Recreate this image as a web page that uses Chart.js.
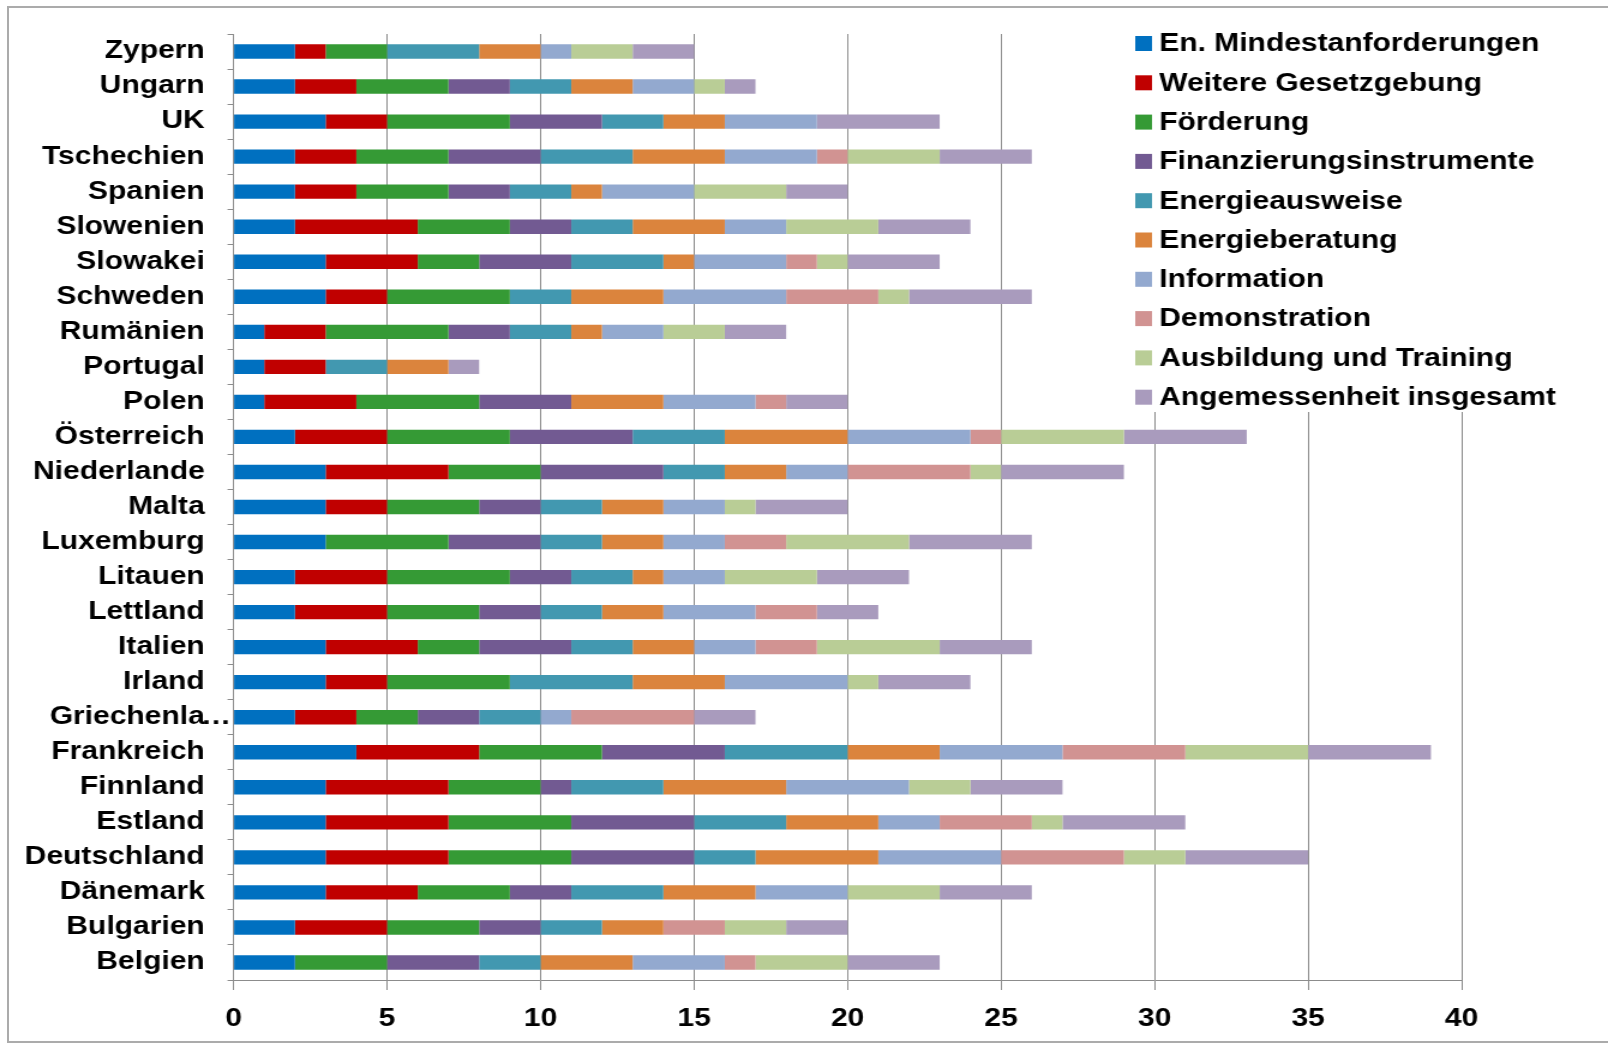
<!DOCTYPE html>
<html lang="de">
<head>
<meta charset="utf-8">
<title>Maßnahmen nach Ländern</title>
<script src="https://cdn.jsdelivr.net/npm/chart.js@4.4.1/dist/chart.umd.min.js"></script>
<style>
  html, body { margin: 0; padding: 0; background: #fff; overflow: hidden; }
  #frame {
    position: absolute; left: 7px; top: 6px;
    width: 1700px; height: 1033px;
    border: 2px solid #ababab;
  }
  /* the chart is laid out on a narrower canvas and widened horizontally */
  #wrap {
    position: absolute; left: 0; top: 0;
    width: 1340px; height: 1044px;
    transform: scaleX(1.2); transform-origin: 0 0;
  }
  canvas { display: block; }
</style>
</head>
<body>
<div id="frame"></div>
<div id="wrap"><canvas id="chart" width="1340" height="1044"></canvas></div>
<script>
// Countries, top to bottom
const countries = [
  'Zypern', 'Ungarn', 'UK', 'Tschechien', 'Spanien', 'Slowenien', 'Slowakei',
  'Schweden', 'Rumänien', 'Portugal', 'Polen', 'Österreich', 'Niederlande',
  'Malta', 'Luxemburg', 'Litauen', 'Lettland', 'Italien', 'Irland',
  'Griechenland', 'Frankreich', 'Finnland', 'Estland', 'Deutschland',
  'Dänemark', 'Bulgarien', 'Belgien'
];

// Scores per measure, same order as countries
const mindestanforderungen = [2, 2, 3, 2, 2, 2, 3, 3, 1, 1, 1, 2, 3, 3, 3, 2, 2, 3, 3, 2, 4, 3, 3, 3, 3, 2, 2];
const gesetzgebung         = [1, 2, 2, 2, 2, 4, 3, 2, 2, 2, 3, 3, 4, 2, 0, 3, 3, 3, 2, 2, 4, 4, 4, 4, 3, 3, 0];
const foerderung           = [2, 3, 4, 3, 3, 3, 2, 4, 4, 0, 4, 4, 3, 3, 4, 4, 3, 2, 4, 2, 4, 3, 4, 4, 3, 3, 3];
const finanzierung         = [0, 2, 3, 3, 2, 2, 3, 0, 2, 0, 3, 4, 4, 2, 3, 2, 2, 3, 0, 2, 4, 1, 4, 4, 2, 2, 3];
const energieausweise      = [3, 2, 2, 3, 2, 2, 3, 2, 2, 2, 0, 3, 2, 2, 2, 2, 2, 2, 4, 2, 4, 3, 3, 2, 3, 2, 2];
const energieberatung      = [2, 2, 2, 3, 1, 3, 1, 3, 1, 2, 3, 4, 2, 2, 2, 1, 2, 2, 3, 0, 3, 4, 3, 4, 3, 2, 3];
const information          = [1, 2, 3, 3, 3, 2, 3, 4, 2, 0, 3, 4, 2, 2, 2, 2, 3, 2, 4, 1, 4, 4, 2, 4, 3, 0, 3];
const demonstration        = [0, 0, 0, 1, 0, 0, 1, 3, 0, 0, 1, 1, 4, 0, 2, 0, 2, 2, 0, 4, 4, 0, 3, 4, 0, 2, 1];
const ausbildung           = [2, 1, 0, 3, 3, 3, 1, 1, 2, 0, 0, 4, 1, 1, 4, 3, 0, 4, 1, 0, 4, 2, 1, 2, 3, 2, 3];
const angemessenheit       = [2, 1, 4, 3, 2, 3, 3, 4, 2, 1, 2, 4, 4, 3, 4, 3, 2, 3, 3, 2, 4, 3, 4, 4, 3, 2, 3];

const seriesNames = [
  'En. Mindestanforderungen', 'Weitere Gesetzgebung', 'Förderung',
  'Finanzierungsinstrumente', 'Energieausweise', 'Energieberatung',
  'Information', 'Demonstration', 'Ausbildung und Training',
  'Angemessenheit insgesamt'
];
const seriesValues = [
  mindestanforderungen, gesetzgebung, foerderung, finanzierung, energieausweise,
  energieberatung, information, demonstration, ausbildung, angemessenheit
];
const seriesColors = [
  '#0070C0', '#C00000', '#359A35', '#725A92', '#4298B0',
  '#DB843D', '#93A9CF', '#D19392', '#B9CD96', '#A99BBD'
];

// Value axis ticks
const xTickValues = [0, 5, 10, 15, 20, 25, 30, 35, 40];

const FONT = { family: '"Liberation Sans", Arial, Helvetica, sans-serif', size: 25, weight: 'bold' };
const FONT_CSS = `${FONT.weight} ${FONT.size}px ${FONT.family}`;
const GRID = '#8c8c8c';
const MAX_LABEL = 11;
const Y_TICK_LEN = 5;
const Y_TICK_PAD = 19;

// Legend drawn inside the plot area on a white panel, over the grid lines
const plotLegend = {
  id: 'plotLegend',
  beforeDatasetsDraw(chart) {
    const ctx = chart.ctx;
    ctx.save();
    ctx.fillStyle = '#fff';
    ctx.fillRect(917, 20, 423, 392);
    ctx.font = FONT_CSS;
    ctx.textBaseline = 'middle';
    ctx.textAlign = 'left';
    chart.data.datasets.forEach((ds, i) => {
      const y = 44 + 39.3 * i;
      ctx.fillStyle = ds.backgroundColor;
      ctx.fillRect(946, y - 8, 14, 15);
      ctx.fillStyle = '#000';
      ctx.fillText(ds.label, 966, y + 0.5);
    });
    ctx.restore();
  }
};

// Over-long country names are cut and their ellipsis hangs past the label column
const labelEllipsis = {
  id: 'labelEllipsis',
  afterDraw(chart) {
    const y = chart.scales.y;
    const ctx = chart.ctx;
    ctx.save();
    ctx.font = FONT_CSS;
    ctx.fillStyle = '#000';
    ctx.textAlign = 'left';
    ctx.textBaseline = 'middle';
    chart.data.labels.forEach((label, i) => {
      if (label.length > MAX_LABEL) {
        ctx.fillText('…', y.right - Y_TICK_LEN - Y_TICK_PAD - 3, y.getPixelForTick(i));
      }
    });
    ctx.restore();
  }
};

new Chart(document.getElementById('chart'), {
  type: 'bar',
  data: {
    labels: countries,
    datasets: seriesNames.map((name, i) => ({
      label: name,
      data: seriesValues[i],
      backgroundColor: seriesColors[i],
      borderWidth: 0,
      barPercentage: 0.41,
      categoryPercentage: 1.0
    }))
  },
  options: {
    indexAxis: 'y',
    responsive: false,
    devicePixelRatio: 1,
    animation: false,
    layout: { padding: { left: 0, right: 122, top: 30, bottom: 0 } },
    plugins: {
      legend: { display: false },
      tooltip: { enabled: false }
    },
    scales: {
      x: {
        stacked: true,
        min: xTickValues[0],
        max: xTickValues[xTickValues.length - 1],
        ticks: {
          stepSize: xTickValues[1] - xTickValues[0],
          color: '#000',
          font: FONT,
          padding: 14,
          maxRotation: 0
        },
        grid: { color: GRID, lineWidth: 1, tickLength: 10, drawTicks: true },
        border: { color: GRID, width: 1 },
        afterFit(scale) { scale.height = 64; }
      },
      y: {
        stacked: true,
        ticks: {
          color: '#000',
          font: FONT,
          padding: Y_TICK_PAD,
          autoSkip: false,
          callback: function (value) {
            const label = this.getLabelForValue(value);
            return label.length > MAX_LABEL ? label.slice(0, MAX_LABEL - 1) : label;
          }
        },
        grid: { drawOnChartArea: false, tickLength: Y_TICK_LEN, color: GRID, offset: true },
        border: { color: GRID, width: 1 },
        afterFit(scale) { scale.width = 194.6; }
      }
    }
  },
  plugins: [plotLegend, labelEllipsis]
});
</script>
</body>
</html>
